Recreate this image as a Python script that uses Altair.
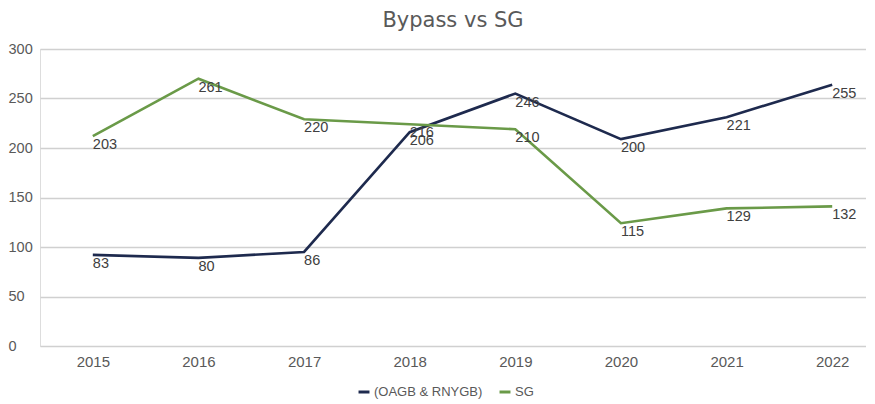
import altair as alt
import pandas as pd

years = [2015, 2016, 2017, 2018, 2019, 2020, 2021, 2022]
series_names = ["(OAGB & RNYGB)", "SG"]
# line positions as drawn in the reference
oagb_line = [92, 89, 95, 216, 255, 209, 231, 264]
sg_line = [212, 270, 229, 224, 219, 124, 139, 141]
# data labels printed in the reference
oagb_labels = [83, 80, 86, 206, 246, 200, 221, 255]
sg_labels = [203, 261, 220, 216, 210, 115, 129, 132]

rows = []
for s, vals, labs in [(series_names[0], oagb_line, oagb_labels),
                      (series_names[1], sg_line, sg_labels)]:
    for y, v, l in zip(years, vals, labs):
        rows.append({"year": y, "series": s, "value": v, "label": str(l)})
df = pd.DataFrame(rows)

FONT = "Liberation Sans"
colors = ["#1e2a4e", "#6a9a48"]

x = alt.X("year:Q",
          scale=alt.Scale(domain=[2014.5, 2022.32], nice=False, zero=False),
          axis=alt.Axis(title=None, values=years, format="d", grid=False,
                        ticks=False, domain=False, labelFontSize=15,
                        labelColor="#595959", labelFont=FONT, labelPadding=8))
y = alt.Y("value:Q",
          scale=alt.Scale(domain=[0, 300], nice=False),
          axis=alt.Axis(title=None, values=[0, 50, 100, 150, 200, 250, 300],
                        grid=True, gridColor="#d0d0d0", gridWidth=1.6,
                        ticks=False, tickSize=0, domain=False,
                        labelAlign="left", labelPadding=32, labelFontSize=14.5,
                        labelColor="#595959", labelFont=FONT))

lines = alt.Chart(df).mark_line(strokeWidth=2.6).encode(
    x=x, y=y,
    color=alt.Color("series:N",
                    scale=alt.Scale(domain=series_names, range=colors),
                    sort=series_names,
                    legend=alt.Legend(title=None, orient="none",
                                      legendX=317, legendY=336,
                                      direction="horizontal",
                                      symbolType="stroke", symbolStrokeWidth=3,
                                      symbolSize=120, labelFontSize=13,
                                      labelColor="#595959", labelFont=FONT,
                                      labelOffset=3, columnPadding=10,
                                      symbolOffset=0)),
)

labels = alt.Chart(df).mark_text(align="left", baseline="top", dy=2,
                                 fontSize=14.5, font=FONT, color="#404040").encode(
    x="year:Q", y="value:Q", text="label:N"
)

chart = alt.layer(lines, labels).properties(
    width=826, height=297,
    title=alt.TitleParams("Bypass vs SG", fontSize=21, font="DejaVu Sans",
                          fontWeight="normal", color="#595959", offset=10),
).configure_view(stroke=None).configure(
    padding={"top": 2, "left": 0, "right": 0, "bottom": 0})

chart.save("out.html", embed_options={"renderer": "svg", "actions": False})
